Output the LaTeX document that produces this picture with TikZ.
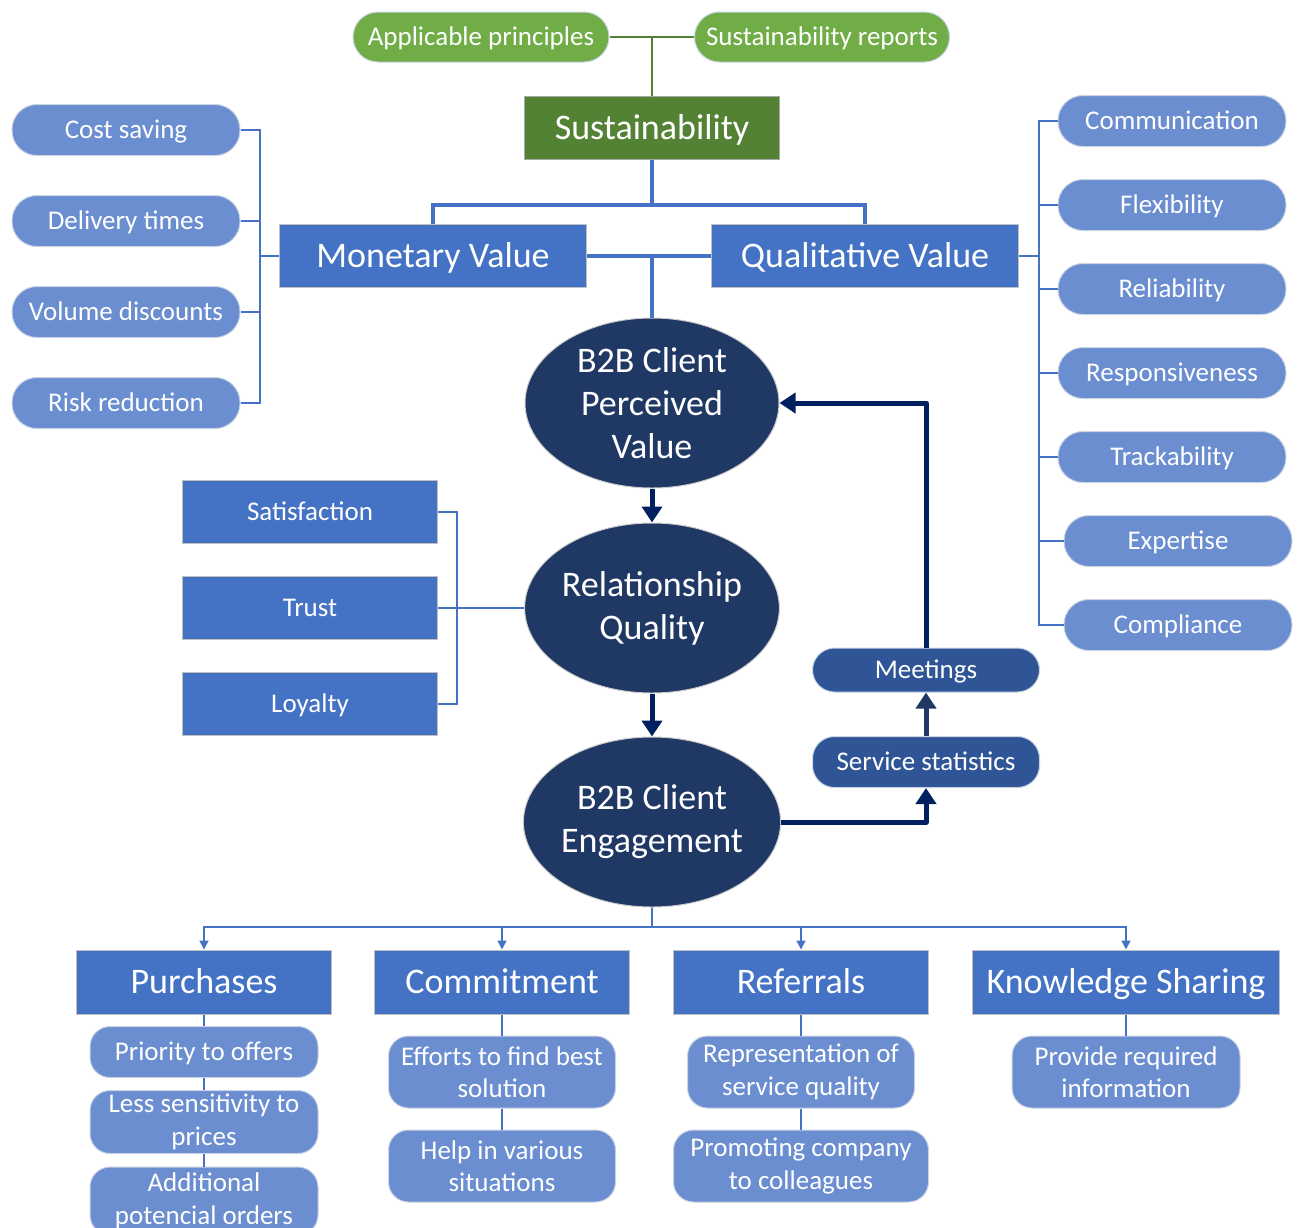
\documentclass[tikz,border=0pt]{standalone}
\usepackage{fontspec}
\setmainfont{Carlito}
\usetikzlibrary{arrows.meta,shapes.geometric}

\definecolor{leafgreen}{HTML}{70AD47}
\definecolor{deepgreen}{HTML}{548235}
\definecolor{linegreen}{HTML}{548235}
\definecolor{mainblue}{HTML}{4472C4}
\definecolor{softblue}{HTML}{6A8ED0}
\definecolor{navyfill}{HTML}{203864}
\definecolor{midnavy}{HTML}{2F5597}
\definecolor{arrownavy}{HTML}{002060}
\definecolor{rimgray}{HTML}{C9D3E3}

\newcommand\fzLarge{\fontsize{36}{43}\selectfont}
\newcommand\fzSmall{\fontsize{27}{32}\selectfont}
\newcommand\fzSub{\fontsize{27}{32.5}\selectfont}

\tikzset{
  base/.style={text=white, inner sep=0pt, align=center, draw=rimgray, line width=1pt},
  onelineS/.style={text height=17.3pt, text depth=0pt},
  onelineL/.style={text height=23pt, text depth=0pt},
  greenpill/.style={base, onelineS, fill=leafgreen, rounded corners=25pt, minimum width=256pt, minimum height=50pt, font=\fzSmall},
  greenbox/.style={base, onelineL, fill=deepgreen, draw=gray!70, minimum width=255pt, minimum height=63pt, font=\fzLarge},
  bigbox/.style={base, onelineL, fill=mainblue, draw=gray!50, minimum width=307pt, minimum height=63pt, font=\fzLarge},
  headbox/.style={base, onelineL, fill=mainblue, draw=gray!50, minimum width=255pt, minimum height=64pt, font=\fzLarge},
  sidepill/.style={base, onelineS, fill=softblue, rounded corners=25pt, minimum width=228pt, minimum height=51pt, font=\fzSmall},
  sidebox/.style={base, onelineS, fill=mainblue, draw=gray!50, minimum width=255pt, minimum height=63pt, font=\fzSmall},
  oval/.style={base, ellipse, fill=navyfill, draw=gray!40, minimum width=254pt, minimum height=170pt, font=\fzLarge},
  loop/.style={base, onelineS, fill=midnavy, rounded corners=22pt, minimum width=227pt, font=\fzSmall},
  subpill/.style={base, fill=softblue, rounded corners=20pt, minimum width=228pt, font=\fzSub},
  greenline/.style={draw=linegreen, line width=1.5pt},
  thickblue/.style={draw=mainblue, line width=4pt},
  thinblue/.style={draw=mainblue, line width=1.5pt},
  thinarrow/.style={thinblue, -{Triangle[width=9pt,length=9pt]}},
  navyarrow/.style={draw=arrownavy, line width=5pt, line join=round, -{Triangle[width=20pt,length=16pt]}},
  navyarrowb/.style={navyarrow, draw=navyfill},
}

\begin{document}
\begin{tikzpicture}[x=1pt, y=-1pt]
\path[use as bounding box, clip] (0,0) rectangle (1300,1227);

% sustainability head
\node[greenpill] (ap) at (481,37) {Applicable principles};
\node[greenpill, minimum width=255pt] (sr) at (822,37) {Sustainability reports};
\node[greenbox] (sus) at (652,128) {Sustainability};

% value dimensions
\node[bigbox] (mv) at (433,256) {Monetary Value};
\node[bigbox] (qv) at (865,256) {Qualitative Value};

% monetary items
\node[sidepill] (cs) at (126,130) {Cost saving};
\node[sidepill] (dt) at (126,221) {Delivery times};
\node[sidepill] (vd) at (126,312) {Volume discounts};
\node[sidepill] (rr) at (126,403) {Risk reduction};

% qualitative items
\node[sidepill] (q1) at (1172,121) {Communication};
\node[sidepill] (q2) at (1172,205) {Flexibility};
\node[sidepill] (q3) at (1172,289) {Reliability};
\node[sidepill] (q4) at (1172,373) {Responsiveness};
\node[sidepill] (q5) at (1172,457) {Trackability};
\node[sidepill] (q6) at (1178,541) {Expertise};
\node[sidepill] (q7) at (1178,625) {Compliance};

% central chain
\node[oval] (pv) at (652,403) {B2B Client\\Perceived\\Value};
\node[oval] (rq) at (652,608) {Relationship\\Quality};
\node[oval] (eng) at (652,822) {B2B Client\\Engagement};

% relationship quality items
\node[sidebox] (sat) at (310,512) {Satisfaction};
\node[sidebox] (tru) at (310,608) {Trust};
\node[sidebox] (loy) at (310,704) {Loyalty};

% feedback loop
\node[loop, minimum height=44pt] (mt) at (926,670) {Meetings};
\node[loop, minimum height=51pt] (ss) at (926,762) {Service statistics};

% engagement outcomes
\node[headbox] (pur) at (204,982) {Purchases};
\node[headbox] (com) at (502,982) {Commitment};
\node[headbox] (ref) at (801,982) {Referrals};
\node[headbox, minimum width=307pt] (ks) at (1126,982) {Knowledge Sharing};

\node[subpill, onelineS, minimum height=51pt] (p1) at (204,1052) {Priority to offers};
\node[subpill, minimum height=63pt] (p2) at (204,1122) {Less sensitivity to\\prices};
\node[subpill, minimum height=68pt] (p3) at (204,1201) {Additional\\potencial orders};

\node[subpill, minimum width=227pt, minimum height=72pt] (c1) at (502,1072) {Efforts to find best\\solution};
\node[subpill, minimum width=227pt, minimum height=72pt] (c2) at (502,1166) {Help in various\\situations};

\node[subpill, minimum width=227pt, minimum height=72pt] (r1) at (801,1072) {Representation of\\service quality};
\node[subpill, minimum width=255pt, minimum height=72pt] (r2) at (801,1166) {Promoting company\\to colleagues};

\node[subpill, minimum width=228pt, minimum height=72pt] (k1) at (1126,1072) {Provide required\\information};

% connectors: sustainability
\draw[greenline] (ap.east) -- (sr.west);
\draw[greenline] (sus.north) -- (sus.north |- ap.east);

\coordinate (vj) at (652,205);
\draw[thickblue] (sus.south) -- (vj);
\draw[thickblue] (mv.north) |- (vj) -| (qv.north);
\draw[thickblue] (mv.east) -- (qv.west);
\draw[thickblue] (pv.north |- mv.east) -- (pv.north);

% connectors: monetary items
\coordinate (lj) at (260,256);
\foreach \n in {cs,dt,vd,rr} \draw[thinblue] (\n.east) -| (lj);
\draw[thinblue] (lj) -- (mv.west);

% connectors: qualitative items
\coordinate (rj) at (1039,256);
\draw[thinblue] (qv.east) -- (rj);
\foreach \n in {q1,q2,q3,q4,q5,q6,q7} \draw[thinblue] (\n.west) -| (rj);

% connectors: relationship quality items
\coordinate (sj) at (457,608);
\draw[thinblue] (sat.east) -| (sj);
\draw[thinblue] (loy.east) -| (sj);
\draw[thinblue] (tru.east) -- (rq.west);

% central chain arrows
\draw[navyarrow] (pv.south) -- (rq.north);
\draw[navyarrow] (rq.south) -- (eng.north);

% feedback loop arrows
\draw[navyarrow] (eng.east) -| (ss.south);
\draw[navyarrowb] (ss.north) -- (mt.south);
\draw[navyarrow] (mt.north) |- (pv.east);

% outcome tree
\coordinate (bj) at (652,927);
\draw[thinblue] (eng.south) -- (bj);
\foreach \n in {pur,com,ref,ks} \draw[thinarrow] (bj) -| (\n.north);

\draw[thinblue] (pur.south) -- (p1.north);
\draw[thinblue] (p1.south) -- (p2.north);
\draw[thinblue] (p2.south) -- (p3.north);
\draw[thinblue] (com.south) -- (c1.north);
\draw[thinblue] (c1.south) -- (c2.north);
\draw[thinblue] (ref.south) -- (r1.north);
\draw[thinblue] (r1.south) -- (r2.north);
\draw[thinblue] (ks.south) -- (k1.north);
\end{tikzpicture}
\end{document}
